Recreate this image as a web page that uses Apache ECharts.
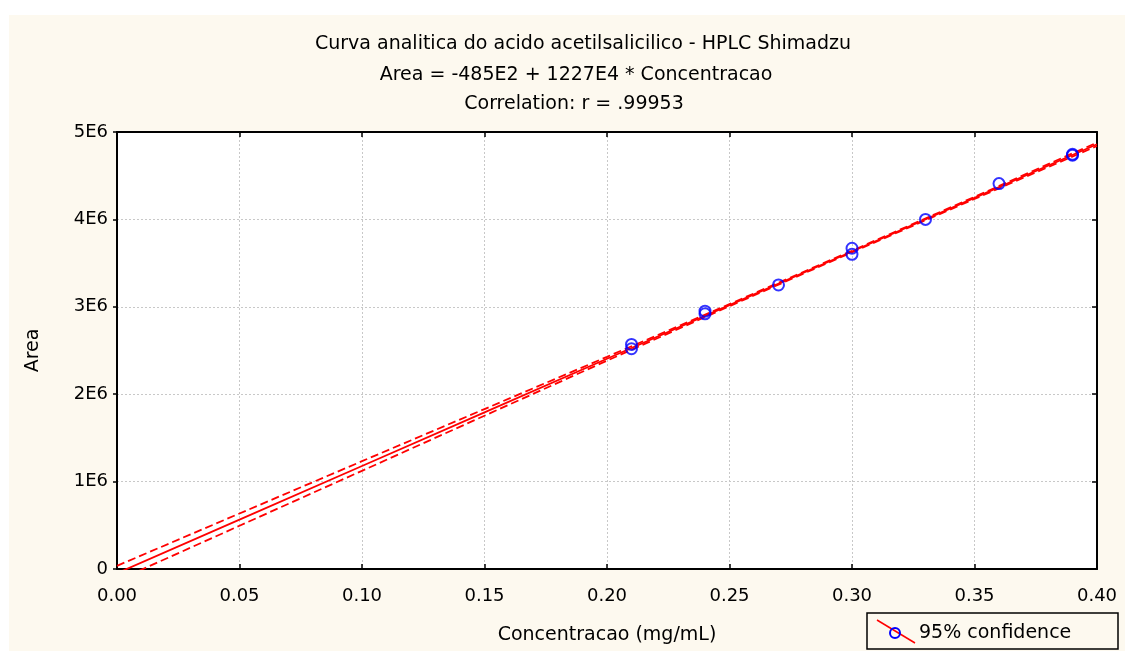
<!DOCTYPE html>
<html>
<head>
<meta charset="utf-8">
<script src="https://cdn.jsdelivr.net/npm/echarts@6/dist/echarts.min.js"></script>
<style>
html,body{margin:0;padding:0;background:#fff;}
#c{width:1125px;height:651px;}
</style>
</head>
<body>
<div id="c"></div>
<script>
// Data
var titleLines = ['Curva analitica do acido acetilsalicilico - HPLC Shimadzu',
                  'Area = -485E2 + 1227E4 * Concentracao',
                  'Correlation: r = .99953'];
var xName = 'Concentracao (mg/mL)';
var yName = 'Area';
var legendLabel = '95% confidence';

var conc = [0.21, 0.21, 0.24, 0.24, 0.27, 0.30, 0.30, 0.33, 0.36, 0.39, 0.39];
var area = [2570000, 2520000, 2950000, 2920000, 3250000, 3670000, 3600000, 4000000, 4410000, 4745000, 4735000];

var lineX    = [0.00, 0.05, 0.10, 0.15, 0.20, 0.25, 0.30, 0.35, 0.40];
var fitY     = [-48500, 565000, 1178500, 1792000, 2405500, 3019000, 3632500, 4246000, 4859500];
var upperY   = [36500, 635000, 1233500, 1830000, 2427500, 3031000, 3641500, 4258000, 4879500];
var lowerY   = [-133500, 495000, 1123500, 1754000, 2383500, 3007000, 3623500, 4234000, 4839500];

var xTickLabels = ['0.00','0.05','0.10','0.15','0.20','0.25','0.30','0.35','0.40'];
var yTickLabels = ['0','1E6','2E6','3E6','4E6','5E6'];

function pairs(xs, ys){ return xs.map(function(x,i){ return [x, ys[i]]; }); }

var FONT = '"DejaVu Sans", Arial, sans-serif';
var FS = 18;   // tick labels
var FT = 19;   // titles, axis names, legend
var chart = echarts.init(document.getElementById('c'));

var option = {
  animation: false,
  backgroundColor: '#ffffff',
  grid: { left: 117, top: 132, right: 28, bottom: 82, show: true, backgroundColor: '#ffffff', borderWidth: 0 },
  graphic: [
    { type: 'rect', z: -10, silent: true, shape: { x: 9, y: 15, width: 1116, height: 636 }, style: { fill: '#fdf9ef' } },
    { type: 'text', x: 583, y: 44, style: { text: titleLines[0], font: FT + 'px ' + FONT, fill: '#000', align: 'center', verticalAlign: 'middle' } },
    { type: 'text', x: 576, y: 75, style: { text: titleLines[1], font: FT + 'px ' + FONT, fill: '#000', align: 'center', verticalAlign: 'middle' } },
    { type: 'text', x: 574, y: 104, style: { text: titleLines[2], font: FT + 'px ' + FONT, fill: '#000', align: 'center', verticalAlign: 'middle' } },
    { type: 'group', x: 867, y: 613, children: [
      { type: 'rect', shape: { x: 0, y: 0, width: 251, height: 36 }, style: { fill: '#fdf9ef', stroke: '#000', lineWidth: 1.5 } },
      { type: 'line', shape: { x1: 10, y1: 7, x2: 48, y2: 30 }, style: { stroke: '#ff0000', lineWidth: 1.5 } },
      { type: 'circle', shape: { cx: 28, cy: 20, r: 5 }, style: { fill: 'none', stroke: '#0000ff', lineWidth: 2 } },
      { type: 'text', x: 52, y: 20, style: { text: legendLabel, font: FT + 'px ' + FONT, fill: '#000', verticalAlign: 'middle' } }
    ]}
  ],
  xAxis: [{
    type: 'value', min: 0, max: 0.4, interval: 0.05, position: 'bottom',
    name: xName, nameLocation: 'middle', nameGap: 57,
    nameTextStyle: { fontSize: FT, fontFamily: FONT, color: '#000' },
    axisLine: { show: true, onZero: false, lineStyle: { color: '#000', width: 2 } },
    axisTick: { show: true, inside: true, length: 5, lineStyle: { color: '#000', width: 1.5 } },
    axisLabel: { fontSize: FS, fontFamily: FONT, color: '#000', margin: 18,
      formatter: function(v){ return xTickLabels[Math.round(v/0.05)]; } },
    splitLine: { show: true, showMinLine: false, showMaxLine: false, lineStyle: { color: '#c8c8c8', type: [2,2], width: 1 } }
  },{
    type: 'value', min: 0, max: 0.4, interval: 0.05, position: 'top',
    axisLine: { show: true, onZero: false, lineStyle: { color: '#000', width: 2 } },
    axisTick: { show: true, inside: true, length: 5, lineStyle: { color: '#000', width: 1.5 } },
    axisLabel: { show: false }, splitLine: { show: false }
  }],
  yAxis: [{
    type: 'value', min: 0, max: 5000000, interval: 1000000, position: 'left',
    name: yName, nameLocation: 'middle', nameGap: 74, nameRotate: 90,
    nameTextStyle: { fontSize: FT, fontFamily: FONT, color: '#000' },
    axisLine: { show: true, onZero: false, lineStyle: { color: '#000', width: 2 } },
    axisTick: { show: true, inside: false, length: 4, lineStyle: { color: '#000', width: 1.5 } },
    axisLabel: { fontSize: FS, fontFamily: FONT, color: '#000', margin: 9,
      formatter: function(v){ return yTickLabels[Math.round(v/1000000)]; } },
    splitLine: { show: true, showMinLine: false, showMaxLine: false, lineStyle: { color: '#c8c8c8', type: [2,2], width: 1 } }
  },{
    type: 'value', min: 0, max: 5000000, interval: 1000000, position: 'right',
    axisLine: { show: true, onZero: false, lineStyle: { color: '#000', width: 2 } },
    axisTick: { show: true, inside: true, length: 5, lineStyle: { color: '#000', width: 1.5 } },
    axisLabel: { show: false }, splitLine: { show: false }
  }],
  series: [
    { type: 'line', data: pairs(lineX, upperY), showSymbol: false, clip: true,
      lineStyle: { color: '#ff0000', width: 1.8, type: [8,4] }, z: 3 },
    { type: 'line', data: pairs(lineX, lowerY), showSymbol: false, clip: true,
      lineStyle: { color: '#ff0000', width: 1.8, type: [8,4] }, z: 3 },
    { type: 'line', data: pairs(lineX, fitY), showSymbol: false, clip: true,
      lineStyle: { color: '#ff0000', width: 1.8 }, z: 4 },
    { type: 'scatter', data: pairs(conc, area), symbol: 'circle', symbolSize: 11,
      itemStyle: { color: 'rgba(0,0,0,0)', borderColor: '#0000ff', borderWidth: 2 }, z: 5 }
  ]
};
chart.setOption(option);
</script>
</body>
</html>
